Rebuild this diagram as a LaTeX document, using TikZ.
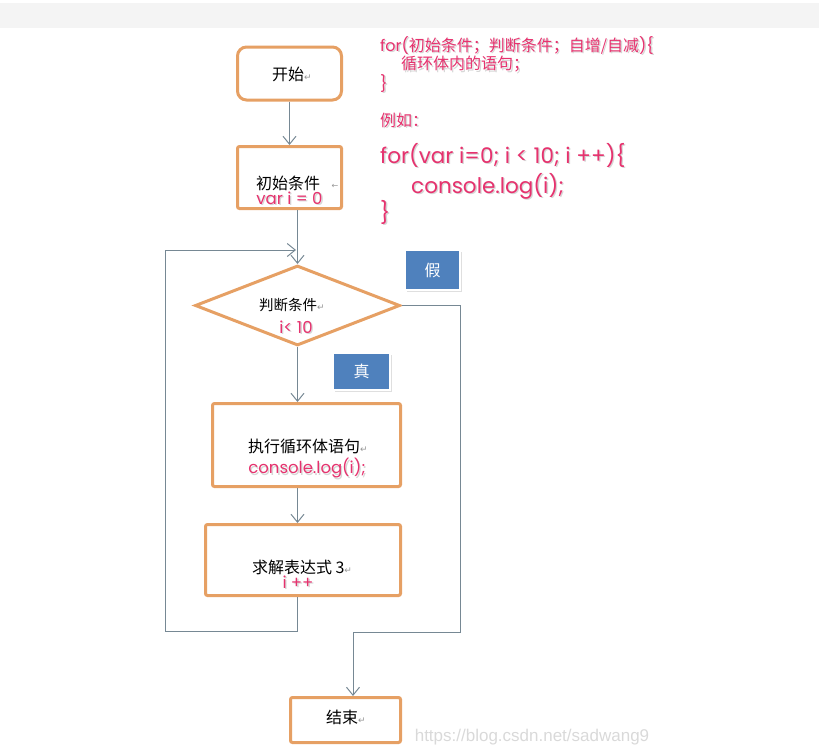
\documentclass[tikz,border=0pt]{standalone}
\usepackage{fontspec}
\usetikzlibrary{shapes.geometric,arrows.meta,shadows}
\newfontfamily\cn{Noto Sans CJK SC}
\newfontfamily\pk{Poppins}
\newfontfamily\dv{DejaVu Sans}
\newfontfamily\wmf{Liberation Sans}
\newcommand\fs[1]{\fontsize{#1}{#1}\selectfont}
\definecolor{boxor}{RGB}{230,160,100}
\definecolor{connc}{RGB}{118,136,148}
\definecolor{pinkt}{RGB}{230,50,110}
\definecolor{blueb}{RGB}{79,129,189}
\definecolor{topband}{RGB}{244,244,244}
\definecolor{retc}{RGB}{150,150,150}
\newcommand\retmark{{\dv\fs{9}\color{retc}↵}}
\newcommand\shtext[1]{\makebox[0pt][l]{\raisebox{-1.3pt}{\hspace{1.3pt}\textcolor{black!16}{#1}}}#1}
\begin{document}
\begin{tikzpicture}[x=1pt,y=-1pt,
  box/.style={draw=boxor, line width=3pt, fill=white, inner sep=0pt, rounded corners=2pt},
  flow/.style={draw=connc, line width=1pt, -{Straight Barb[length=8pt,width=13pt]}},
  txt/.style={inner sep=0pt, font=\cn\fs{16}},
  pinklbl/.style={inner sep=0pt, text=pinkt, font=\pk\fs{16.5}},
  code/.style={inner sep=0pt, anchor=west, text=pinkt, font=\cn\fs{16}},
  tag/.style={fill=blueb, draw=white, line width=2.5pt, text=white, font=\cn\fs{16},
    drop shadow={opacity=0.25, shadow xshift=2pt, shadow yshift=-2pt}},
  wmark/.style={inner sep=0pt, text=black!15, font=\wmf\fs{17}}]
\useasboundingbox (0,0) rectangle (819,753);
\fill[topband] (0,3) rectangle (819,28);

% boxes
\node[box, rounded corners=9pt, minimum width=104pt, minimum height=53pt] (start) at (289.5,73.5) {};
\node[box, minimum width=104pt, minimum height=62pt] (init) at (289.5,177.5) {};
\node[box, shape=diamond, minimum width=205pt, minimum height=80pt, rounded corners=0pt] (diamond) at (297.5,305.5) {};
\node[box, minimum width=188pt, minimum height=83pt] (exec) at (306.5,445) {};
\node[box, minimum width=195pt, minimum height=71pt] (solve) at (303,560) {};
\node[box, minimum width=110pt, minimum height=45pt] (end) at (345.5,720) {};

% texts in boxes
\node[txt] (startT) at (292,74.5) {开始\retmark};
\node[txt] (initT) at (288,183) {初始条件};
\node[inner sep=0pt, text=retc, font=\dv\fs{8}] (initR) at (335,186) {←};
\node[pinklbl] (initP) at (289.5,198.5) {\shtext{var i = 0}};
\node[txt, font=\cn\fs{14.5}] (diaT) at (292,305) {判断条件\retmark};
\node[pinklbl] (diaP) at (296,328) {\shtext{i< 10}};
\node[txt] (execT) at (308,446) {执行循环体语句\retmark};
\node[pinklbl] (execP) at (307,469) {\shtext{console.log(i);}};
\node[txt] (solveT) at (302,567) {求解表达式 3\retmark};
\node[pinklbl] (solveP) at (298,583) {\shtext{i ++}};
\node[txt] (endT) at (346,717.5) {结束\retmark};

% tags
\node[tag, minimum width=55pt, minimum height=40pt] (fals) at (432.5,270) {假};
\node[tag, minimum width=57pt, minimum height=37pt] (tru) at (361.5,371.5) {真};

% connectors
\draw[flow] (start.south) -- (init.north);
\draw[flow] (init.south -| diamond.north) -- (diamond.north);
\draw[flow] (diamond.south) -- (diamond.south |- exec.north);
\draw[flow] (diamond.south |- exec.south) -- (diamond.south |- solve.north);
\coordinate (lpR) at (297,631);
\coordinate (lpL) at (165,631);
\coordinate (lpT) at (165,250);
\coordinate (lpJ) at (296,250);
\draw[flow] (solve.south -| lpR) -- (lpR) -- (lpL) -- (lpT) -- (lpJ);
\coordinate (fR) at (460,305.5);
\coordinate (fB) at (460,632);
\coordinate (fL) at (353,632);
\draw[flow] (diamond.east) -- (fR) -- (fB) -- (fL) -- (fL |- end.north);

% code text
\node[code] (c1) at (380,46) {\shtext{{\pk for(}初始条件；判断条件；自增/自减{\pk )\{}}};
\node[code] (c2) at (401,65) {\shtext{循环体内的语句；}};
\node[code, font=\pk\fs{16}] (c3) at (380,84) {\shtext{\}}};
\node[code] (c4) at (380,121) {\shtext{例如：}};
\node[code, font=\pk\fs{21.5}] (c5) at (380,156) {\shtext{for(var i=0; i < 10; i ++)\{}};
\node[code, font=\pk\fs{21.5}] (c6) at (411,187) {\shtext{console.log(i);}};
\node[code, font=\pk\fs{21.5}] (c7) at (380,213) {\shtext{\}}};

% watermark
\node[wmark] (wm) at (532,737) {https://blog.csdn.net/sadwang9};
\end{tikzpicture}
\end{document}
